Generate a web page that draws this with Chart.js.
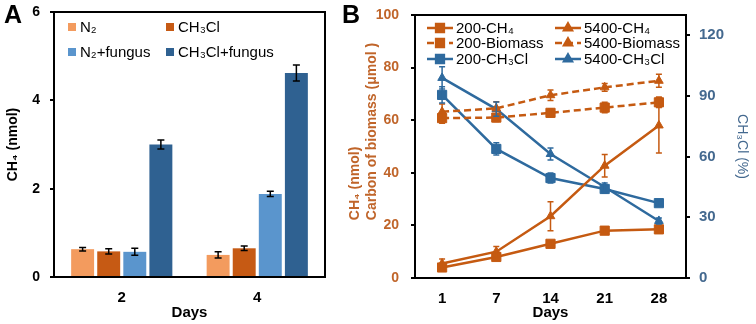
<!DOCTYPE html>
<html>
<head>
<meta charset="utf-8">
<script src="https://cdn.jsdelivr.net/npm/chart.js@4.4.1/dist/chart.umd.min.js"></script>
<style>
  body { margin: 0; background: #fff; width: 756px; height: 324px; position: relative; overflow: hidden; font-family: "Liberation Sans", Arial, sans-serif; }
  canvas { position: absolute; top: 0; }
  #chartA { left: 0; }
  #chartB { left: 340px; }
  .tag { position: absolute; top: 0; font-weight: bold; font-size: 25px; line-height: 28px; }
</style>
</head>
<body>
<canvas id="chartA" width="340" height="324"></canvas>
<canvas id="chartB" width="416" height="324"></canvas>
<div class="tag" style="left:4px">A</div>
<div class="tag" style="left:342px">B</div>
<script>
// ---- panel A data
const daysA = ["2", "4"];
const namesA = ["N₂", "CH₃Cl", "N₂+fungus", "CH₃Cl+fungus"];
const n2 = [0.63, 0.50];
const ch3cl = [0.58, 0.65];
const n2Fungus = [0.57, 1.88];
const ch3clFungus = [3.00, 4.62];
const n2Err = [0.04, 0.07];
const ch3clErr = [0.06, 0.05];
const n2FungusErr = [0.08, 0.06];
const ch3clFungusErr = [0.10, 0.18];
const ticksA = [0, 2, 4, 6];

// ---- panel B data
const daysB = ["1", "7", "14", "21", "28"];
const ch4_200 = [4.0, 8.0, 13.0, 18.0, 18.5];
const ch4_5400 = [5.5, 10.0, 23.5, 42.7, 58.0];
const bio_200 = [60.8, 61.0, 62.8, 64.8, 66.8];
const bio_5400 = [63.2, 64.5, 69.5, 72.5, 75.0];
const cl_200 = [90.5, 63.8, 49.4, 44.0, 37.0];
const cl_5400 = [98.9, 83.5, 61.3, 45.0, 28.2];
const ch4_200Err = [1.0, 1.0, 1.0, 1.0, 1.0];
const ch4_5400Err = [1.7, 2.0, 5.5, 4.3, 10.5];
const bio_200Err = [2.0, 1.5, 1.5, 2.0, 2.0];
const bio_5400Err = [3.0, 2.5, 2.0, 1.5, 2.5];
const cl_200Err = [4.0, 3.0, 2.5, 2.0, 1.0];
const cl_5400Err = [5.5, 3.5, 3.0, 2.0, 1.5];
const ticksLeftB = [0, 20, 40, 60, 80, 100];
const ticksRightB = [0, 30, 60, 90, 120];
const leftTitleB = ["CH₄ (nmol)", "Carbon of biomass (μmol )"];

const ORANGE = "#C55A11";
const BLUE = "#2E6A9E";
const FONT = "'Liberation Sans', Arial, sans-serif";

// box around plot area
const framePlugin = {
  id: "frame",
  afterDraw(chart) {
    const { ctx, chartArea: a } = chart;
    ctx.save();
    ctx.strokeStyle = "#000";
    ctx.lineWidth = 2;
    ctx.strokeRect(a.left, a.top, a.right - a.left, a.bottom - a.top);
    ctx.restore();
  }
};

// error bars, read from dataset.err
const errorPlugin = {
  id: "errbars",
  afterDatasetsDraw(chart, args, opts) {
    const ctx = chart.ctx;
    chart.data.datasets.forEach((ds, i) => {
      const meta = chart.getDatasetMeta(i);
      const yScale = chart.scales[meta.yAxisID];
      ctx.save();
      ctx.strokeStyle = opts.color || ds.borderColor;
      ctx.lineWidth = 1.5;
      ctx.setLineDash([]);
      meta.data.forEach((el, j) => {
        const v = ds.data[j], e = ds.err[j];
        const x = el.x;
        const y1 = yScale.getPixelForValue(v + e);
        const y2 = yScale.getPixelForValue(v - e);
        const w = opts.cap;
        ctx.beginPath();
        ctx.moveTo(x, y1); ctx.lineTo(x, y2);
        ctx.moveTo(x - w, y1); ctx.lineTo(x + w, y1);
        ctx.moveTo(x - w, y2); ctx.lineTo(x + w, y2);
        ctx.stroke();
      });
      ctx.restore();
    });
  }
};

const legendA = {
  id: "legendA",
  afterDraw(chart) {
    const { ctx, chartArea: a } = chart;
    const cols = [a.left + 14, a.left + 112];
    const rows = [a.top + 15, a.top + 40];
    ctx.save();
    ctx.font = "15px " + FONT;
    ctx.textBaseline = "middle";
    chart.data.datasets.forEach((ds, i) => {
      const x = cols[i % 2], y = rows[Math.floor(i / 2)];
      ctx.fillStyle = ds.backgroundColor;
      ctx.fillRect(x, y - 4, 8, 8);
      ctx.fillStyle = "#000";
      ctx.fillText(ds.label, x + 12, y + 1);
    });
    ctx.restore();
  }
};

const legendB = {
  id: "legendB",
  afterDraw(chart) {
    const { ctx, chartArea: a } = chart;
    const cols = [a.left + 12, a.left + 140];
    const rows = [a.top + 13, a.top + 28, a.top + 44];
    ctx.save();
    ctx.font = "15px " + FONT;
    ctx.textBaseline = "middle";
    chart.data.datasets.forEach((ds, i) => {
      const x = cols[i % 2], y = rows[Math.floor(i / 2)];
      ctx.strokeStyle = ds.borderColor;
      ctx.lineWidth = 2.5;
      ctx.setLineDash(ds.borderDash || []);
      ctx.beginPath();
      ctx.moveTo(x, y); ctx.lineTo(x + 26, y);
      ctx.stroke();
      ctx.setLineDash([]);
      ctx.fillStyle = ds.backgroundColor;
      Chart.helpers.drawPoint(ctx, {
        pointStyle: ds.pointStyle,
        radius: ds.pointStyle === "rect" ? 5.5 : 4.5,
        rotation: 0,
        borderWidth: 1
      }, x + 13, y);
      ctx.fillStyle = "#000";
      ctx.fillText(ds.label, x + 29, y + 1);
    });
    ctx.restore();
  }
};

// left title of B: two lines, both starting from the same point (like a text box)
const leftTitlePlugin = {
  id: "leftTitle",
  afterDraw(chart) {
    const { ctx, chartArea: a } = chart;
    ctx.save();
    ctx.font = "bold 14px " + FONT;
    ctx.fillStyle = "#C0652A";
    ctx.textBaseline = "middle";
    ctx.textAlign = "left";
    const longest = Math.max(...leftTitleB.map(t => ctx.measureText(t).width));
    const cy = (a.top + a.bottom) / 2 - 15;
    ctx.translate(0, cy + longest / 2);
    ctx.rotate(-Math.PI / 2);
    leftTitleB.forEach((t, i) => ctx.fillText(t, 0, 15 + i * 17));
    ctx.restore();
  }
};

// keep the tick label overflow from pushing the plot area down
const noPad = (w) => (s) => { s.width = w; s.paddingTop = 0; s.paddingBottom = 0; };

// ---- panel A
new Chart(document.getElementById("chartA"), {
  type: "bar",
  data: {
    labels: daysA,
    datasets: [
      { label: namesA[0], data: n2, err: n2Err, backgroundColor: "#F39B5E" },
      { label: namesA[1], data: ch3cl, err: ch3clErr, backgroundColor: "#C65A14" },
      { label: namesA[2], data: n2Fungus, err: n2FungusErr, backgroundColor: "#5A95CD" },
      { label: namesA[3], data: ch3clFungus, err: ch3clFungusErr, backgroundColor: "#2F6191" }
    ]
  },
  options: {
    responsive: false,
    animation: false,
    categoryPercentage: 0.77,
    barPercentage: 0.88,
    layout: { padding: { top: 12, right: 15, left: 0, bottom: 0 } },
    plugins: {
      legend: { display: false },
      tooltip: { enabled: false },
      errbars: { color: "#000", cap: 3.5 }
    },
    scales: {
      x: {
        grid: { display: false, drawTicks: false },
        border: { display: false },
        ticks: { color: "#000", font: { family: FONT, size: 15, weight: "bold" }, padding: 12 },
        title: { display: true, text: "Days", color: "#000", font: { family: FONT, size: 15, weight: "bold" }, padding: { top: 0, bottom: 2 } },
        afterFit: (s) => { s.height = 47; }
      },
      y: {
        min: 0, max: 6,
        afterBuildTicks: (s) => { s.ticks = ticksA.map(v => ({ value: v })); },
        grid: { drawOnChartArea: false, color: "#000", lineWidth: 2, tickLength: 4 },
        border: { display: false },
        ticks: { color: "#000", font: { family: FONT, size: 14, weight: "bold" }, padding: 10 },
        title: { display: true, text: "CH₄ (nmol)", color: "#000", font: { family: FONT, size: 14, weight: "bold" }, padding: { top: 5, bottom: 0 } },
        afterFit: noPad(54)
      }
    }
  },
  plugins: [framePlugin, errorPlugin, legendA]
});

// ---- panel B
function lineSet(label, data, err, color, style, dashed, axis) {
  return {
    label, data, err,
    yAxisID: axis,
    borderColor: color,
    backgroundColor: color,
    borderWidth: 2.5,
    borderDash: dashed ? [7, 4] : [],
    pointStyle: style,
    pointRadius: style === "rect" ? 6.5 : 5,
    pointBorderWidth: 1,
    tension: 0
  };
}

new Chart(document.getElementById("chartB"), {
  type: "line",
  data: {
    labels: daysB,
    datasets: [
      lineSet("200-CH₄", ch4_200, ch4_200Err, ORANGE, "rect", false, "y"),
      lineSet("5400-CH₄", ch4_5400, ch4_5400Err, ORANGE, "triangle", false, "y"),
      lineSet("200-Biomass", bio_200, bio_200Err, ORANGE, "rect", true, "y"),
      lineSet("5400-Biomass", bio_5400, bio_5400Err, ORANGE, "triangle", true, "y"),
      lineSet("200-CH₃Cl", cl_200, cl_200Err, BLUE, "rect", false, "y2"),
      lineSet("5400-CH₃Cl", cl_5400, cl_5400Err, BLUE, "triangle", false, "y2")
    ]
  },
  options: {
    responsive: false,
    animation: false,
    layout: { padding: { top: 15, right: 0, left: 0, bottom: 0 } },
    plugins: {
      legend: { display: false },
      tooltip: { enabled: false },
      errbars: { cap: 3 }
    },
    scales: {
      x: {
        offset: true,
        grid: { display: false, drawTicks: false, offset: true },
        border: { display: false },
        ticks: { color: "#000", font: { family: FONT, size: 15, weight: "bold" }, padding: 12 },
        title: { display: true, text: "Days", color: "#000", font: { family: FONT, size: 15, weight: "bold" }, padding: { top: 0, bottom: 2 } },
        afterFit: (s) => { s.height = 46; }
      },
      y: {
        position: "left",
        min: 0, max: 100,
        afterBuildTicks: (s) => { s.ticks = ticksLeftB.map(v => ({ value: v })); },
        grid: { drawOnChartArea: false, color: "#000", lineWidth: 2, tickLength: 4 },
        border: { display: false },
        ticks: { color: "#C0652A", font: { family: FONT, size: 14, weight: "bold" }, padding: 12 },
        afterFit: noPad(75)
      },
      y2: {
        position: "right",
        min: 0, max: 130,
        afterBuildTicks: (s) => { s.ticks = ticksRightB.map(v => ({ value: v })); },
        grid: { drawOnChartArea: false, color: "#000", lineWidth: 2, tickLength: 4 },
        border: { display: false },
        ticks: { color: "#44698F", font: { family: FONT, size: 15, weight: "bold" }, padding: 9 },
        title: { display: true, text: "CH₃Cl (%)", color: "#44698F", font: { family: FONT, size: 14 }, padding: { top: 6, bottom: 0 } },
        afterFit: noPad(70)
      }
    }
  },
  plugins: [framePlugin, errorPlugin, legendB, leftTitlePlugin]
});
</script>
</body>
</html>
